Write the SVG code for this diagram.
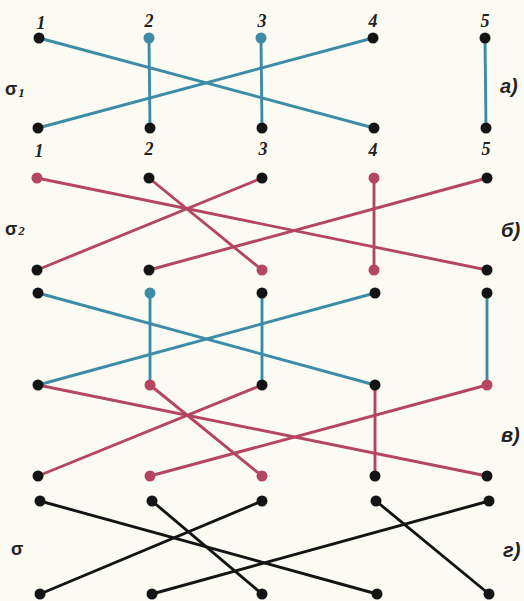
<svg xmlns="http://www.w3.org/2000/svg" width="524" height="601" viewBox="0 0 524 601">
<style>
.bg{fill:#fbfbf4}
.b{stroke:#3d8ca7;stroke-width:2.9;fill:none;stroke-linecap:round}
.r{stroke:#b4465f;stroke-width:2.9;fill:none;stroke-linecap:round}
.k{stroke:#141414;stroke-width:2.9;fill:none;stroke-linecap:round}
.dk{fill:#141414}
.db{fill:#3d8ca7}
.dr{fill:#b4465f}
.num{font-family:"Liberation Serif",serif;font-style:italic;font-weight:bold;font-size:18px;fill:#222;text-anchor:middle}
.sig{font-family:"Liberation Sans",sans-serif;font-weight:bold;font-size:18px;fill:#222}
.sub{font-family:"Liberation Serif",serif;font-style:italic;font-weight:bold;font-size:13px;fill:#222}
.lab{font-family:"Liberation Sans",sans-serif;font-style:italic;font-weight:bold;font-size:20px;fill:#222}
</style>
<rect class="bg" x="0" y="0" width="524" height="601"/>
<g id="connectors">
<line class="b" x1="39" y1="38" x2="374" y2="128"/>
<line class="b" x1="149" y1="38" x2="150" y2="128"/>
<line class="b" x1="261" y1="38" x2="262" y2="128"/>
<line class="b" x1="373" y1="38" x2="38" y2="128"/>
<line class="b" x1="485" y1="38" x2="486" y2="128"/>
<line class="r" x1="37" y1="178" x2="487" y2="270"/>
<line class="r" x1="149" y1="178" x2="262" y2="270"/>
<line class="r" x1="262" y1="178" x2="37" y2="270"/>
<line class="r" x1="374" y1="178" x2="374" y2="270"/>
<line class="r" x1="487" y1="178" x2="149" y2="270"/>
<line class="b" x1="38" y1="293" x2="375" y2="385"/>
<line class="b" x1="150" y1="293" x2="150" y2="385"/>
<line class="b" x1="262" y1="293" x2="262" y2="385"/>
<line class="b" x1="375" y1="293" x2="38" y2="385"/>
<line class="b" x1="487" y1="293" x2="487" y2="385"/>
<line class="r" x1="38" y1="385" x2="487" y2="476"/>
<line class="r" x1="150" y1="385" x2="262" y2="476"/>
<line class="r" x1="262" y1="385" x2="38" y2="476"/>
<line class="r" x1="375" y1="385" x2="375" y2="476"/>
<line class="r" x1="487" y1="385" x2="150" y2="476"/>
<line class="k" x1="40" y1="501" x2="377" y2="594"/>
<line class="k" x1="152" y1="501" x2="262" y2="594"/>
<line class="k" x1="262" y1="501" x2="40" y2="594"/>
<line class="k" x1="376" y1="501" x2="489" y2="594"/>
<line class="k" x1="489" y1="501" x2="152" y2="594"/>
</g>
<g id="row-a-top">
<circle class="dk" cx="39" cy="38" r="5.5"/>
<circle class="db" cx="149" cy="38" r="5.5"/>
<circle class="db" cx="261" cy="38" r="5.5"/>
<circle class="dk" cx="373" cy="38" r="5.5"/>
<circle class="dk" cx="485" cy="38" r="5.5"/>
</g>
<g id="row-a-bottom">
<circle class="dk" cx="38" cy="128" r="5.5"/>
<circle class="dk" cx="150" cy="128" r="5.5"/>
<circle class="dk" cx="262" cy="128" r="5.5"/>
<circle class="dk" cx="374" cy="128" r="5.5"/>
<circle class="dk" cx="486" cy="128" r="5.5"/>
</g>
<g id="row-b-top">
<circle class="dr" cx="37" cy="178" r="5.5"/>
<circle class="dk" cx="149" cy="178" r="5.5"/>
<circle class="dk" cx="262" cy="178" r="5.5"/>
<circle class="dr" cx="374" cy="178" r="5.5"/>
<circle class="dk" cx="487" cy="178" r="5.5"/>
</g>
<g id="row-b-bottom">
<circle class="dk" cx="37" cy="270" r="5.5"/>
<circle class="dk" cx="149" cy="270" r="5.5"/>
<circle class="dr" cx="262" cy="270" r="5.5"/>
<circle class="dr" cx="374" cy="270" r="5.5"/>
<circle class="dk" cx="487" cy="270" r="5.5"/>
</g>
<g id="row-c-top">
<circle class="dk" cx="38" cy="293" r="5.5"/>
<circle class="db" cx="150" cy="293" r="5.5"/>
<circle class="dk" cx="262" cy="293" r="5.5"/>
<circle class="dk" cx="375" cy="293" r="5.5"/>
<circle class="dk" cx="487" cy="293" r="5.5"/>
</g>
<g id="row-c-middle">
<circle class="dk" cx="38" cy="385" r="5.5"/>
<circle class="dr" cx="150" cy="385" r="5.5"/>
<circle class="dk" cx="262" cy="385" r="5.5"/>
<circle class="dk" cx="375" cy="385" r="5.5"/>
<circle class="dr" cx="487" cy="385" r="5.5"/>
</g>
<g id="row-c-bottom">
<circle class="dk" cx="38" cy="476" r="5.5"/>
<circle class="dr" cx="150" cy="476" r="5.5"/>
<circle class="dr" cx="262" cy="476" r="5.5"/>
<circle class="dk" cx="375" cy="476" r="5.5"/>
<circle class="dk" cx="487" cy="476" r="5.5"/>
</g>
<g id="row-d-top">
<circle class="dk" cx="40" cy="501" r="5.5"/>
<circle class="dk" cx="152" cy="501" r="5.5"/>
<circle class="dk" cx="262" cy="501" r="5.5"/>
<circle class="dk" cx="376" cy="501" r="5.5"/>
<circle class="dk" cx="489" cy="501" r="5.5"/>
</g>
<g id="row-d-bottom">
<circle class="dk" cx="40" cy="594" r="5.5"/>
<circle class="dk" cx="152" cy="594" r="5.5"/>
<circle class="dk" cx="262" cy="594" r="5.5"/>
<circle class="dk" cx="377" cy="594" r="5.5"/>
<circle class="dk" cx="489" cy="594" r="5.5"/>
</g>
<g id="labels">
<text class="num" x="41" y="29">1</text>
<text class="num" x="149" y="27">2</text>
<text class="num" x="262" y="27">3</text>
<text class="num" x="373" y="27">4</text>
<text class="num" x="485" y="27">5</text>
<text class="num" x="39" y="157">1</text>
<text class="num" x="149" y="155">2</text>
<text class="num" x="263" y="155">3</text>
<text class="num" x="373" y="156">4</text>
<text class="num" x="486" y="155">5</text>
<text class="sig" x="5" y="95">σ<tspan class="sub" dx="1" dy="2">1</tspan></text>
<text class="sig" x="5" y="235">σ<tspan class="sub" dx="1" dy="0">2</tspan></text>
<text class="sig" x="11" y="555">σ</text>
<text class="lab" x="500" y="93">а)</text>
<text class="lab" x="501" y="237">б)</text>
<text class="lab" x="501" y="442">в)</text>
<text class="lab" x="503" y="557">г)</text>
</g>
</svg>
